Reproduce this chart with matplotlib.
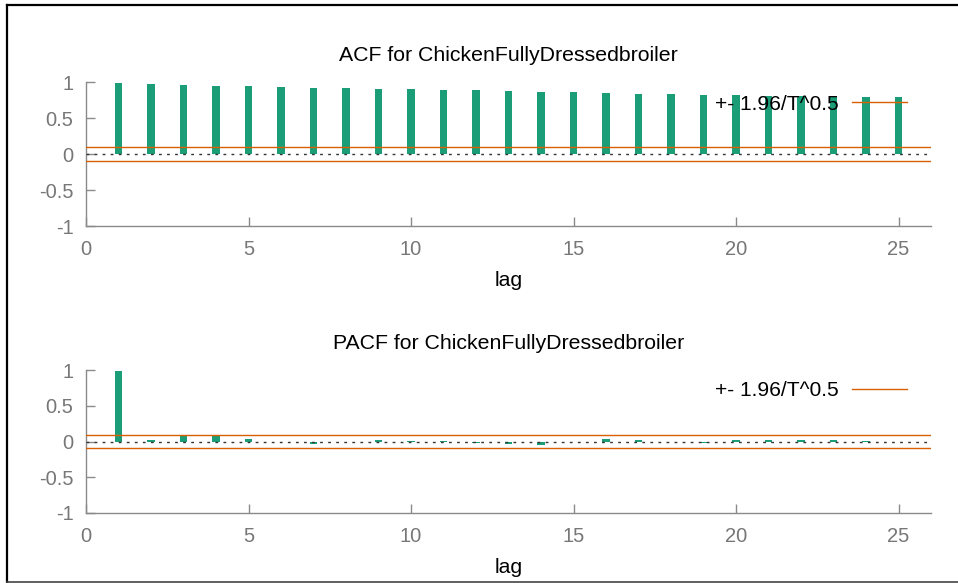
import matplotlib
matplotlib.use('Agg')
import matplotlib.pyplot as plt
from matplotlib.lines import Line2D

plt.rcParams['font.family'] = ['Liberation Sans', 'DejaVu Sans']

series_name = 'ChickenFullyDressedbroiler'
lags = list(range(1, 26))
acf = [0.986, 0.972, 0.958, 0.945, 0.944, 0.931, 0.922, 0.917, 0.903, 0.902,
       0.889, 0.888, 0.876, 0.866, 0.861, 0.848, 0.839, 0.833, 0.825, 0.818,
       0.810, 0.802, 0.796, 0.790, 0.789]
pacf = [0.986, 0.025, 0.093, 0.080, 0.040, -0.008, -0.030, -0.010, 0.022, 0.010,
        0.004, -0.020, -0.040, -0.042, -0.010, 0.030, 0.022, -0.008, -0.025, 0.020,
        0.020, 0.020, 0.020, 0.010, -0.010]
band = 0.097  # 1.96/T^0.5
yticks = [-1, -0.5, 0, 0.5, 1]
ytick_labels = ['-1', '-0.5', '0', '0.5', '1']
xticks = [0, 5, 10, 15, 20, 25]

GREEN = '#1b9e77'
ORANGE = '#d95f02'
GRAY = '#8a8a8a'

W, H = 958, 583
fig = plt.figure(figsize=(W / 100, H / 100), dpi=100)


def px_rect(left, top, right, bottom):
    return [left / W, 1 - bottom / H, (right - left) / W, (bottom - top) / H]


def draw_panel(rect, values, title, legend_y):
    ax = fig.add_axes(rect)
    ax.bar(lags, values, width=0.22, color=GREEN, zorder=2)
    ax.axhline(0, color='#333333', lw=1.0, ls=(0, (2, 3.8)), zorder=3)
    ax.axhline(band, color=ORANGE, lw=1.0, zorder=3)
    ax.axhline(-band, color=ORANGE, lw=1.0, zorder=3, label='+- 1.96/T^0.5')
    ax.set_xlim(0, 26)
    ax.set_ylim(-1, 1)
    ax.set_xticks(xticks)
    ax.set_yticks(yticks)
    ax.set_yticklabels(ytick_labels)
    for s in ['top', 'right']:
        ax.spines[s].set_visible(False)
    for s in ['left', 'bottom']:
        ax.spines[s].set_color(GRAY)
        ax.spines[s].set_linewidth(1.0)
    ax.tick_params(axis='both', direction='in', length=6.5, width=1.0,
                   color=GRAY, labelcolor='#777777', labelsize=14.5)
    ax.tick_params(axis='x', pad=10)
    ax.tick_params(axis='y', pad=9)
    ax.set_title(title, fontsize=15.3, pad=15)
    ax.set_xlabel('lag', fontsize=15.3, labelpad=9)
    leg = ax.legend(loc='center right', frameon=False, markerfirst=False,
                    fontsize=15.1, handlelength=2.6, handletextpad=0.65,
                    borderpad=0, borderaxespad=0,
                    bbox_to_anchor=(907 / W, 1 - legend_y / H),
                    bbox_transform=fig.transFigure)
    leg.set_zorder(5)
    return ax


draw_panel(px_rect(86, 82, 931, 226), acf, 'ACF for ' + series_name, 104)
draw_panel(px_rect(86, 370, 931, 513), pacf, 'PACF for ' + series_name, 391)

# outer frame
fig.add_artist(Line2D([7 / W, 7 / W], [1 - 5 / H, 1 - 582 / H], color='black', lw=1.6, transform=fig.transFigure))
fig.add_artist(Line2D([7 / W, 1.0], [1 - 5 / H, 1 - 5 / H], color='black', lw=1.6, transform=fig.transFigure))
fig.add_artist(Line2D([7 / W, 1.0], [1 - 582 / H, 1 - 582 / H], color='#444444', lw=1.2, transform=fig.transFigure))

fig.savefig('out.png', dpi=100)
